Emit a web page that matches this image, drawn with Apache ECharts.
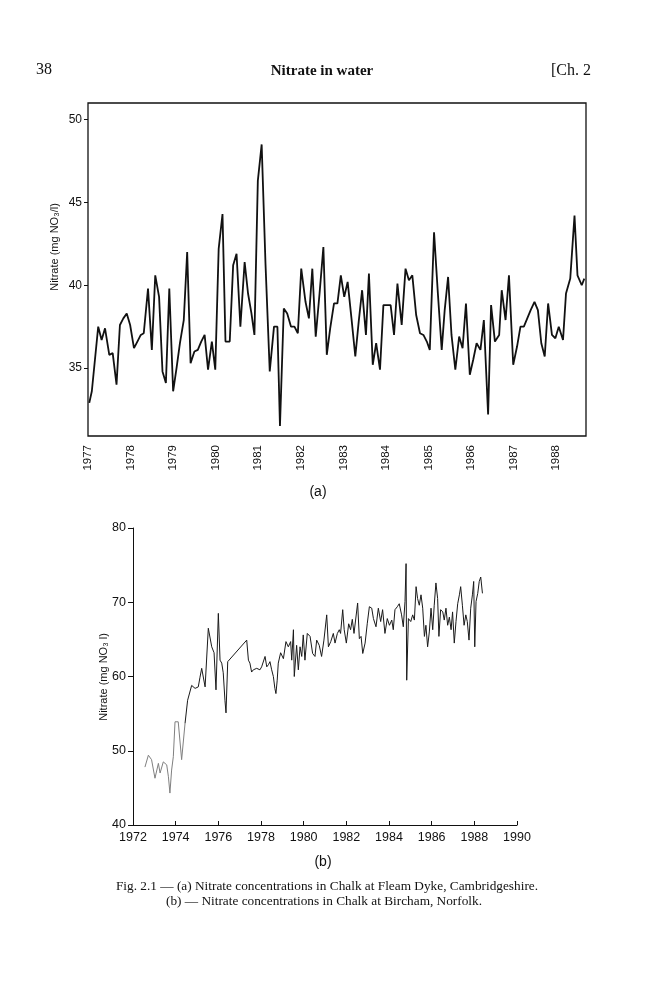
<!DOCTYPE html>
<html>
<head>
<meta charset="utf-8">
<script src="https://cdn.jsdelivr.net/npm/echarts/dist/echarts.min.js"></script>
<style>
  html, body { margin: 0; padding: 0; background: #fff; }
  #chart { width: 657px; height: 1000px; }
</style>
</head>
<body>
<div id="chart"></div>
<script>
// (a) Fleam Dyke, monthly-ish readings
const aYears = [1977.03,1977.09,1977.24,1977.32,1977.40,1977.50,1977.58,1977.67,1977.75,1977.83,1977.91,1977.99,
  1978.08,1978.16,1978.24,1978.31,1978.41,1978.50,1978.58,1978.67,1978.75,1978.83,1978.91,1979.00,
  1979.08,1979.16,1979.25,1979.33,1979.41,1979.50,1979.58,1979.66,1979.74,1979.82,1979.91,1979.99,
  1980.07,1980.16,1980.23,1980.33,1980.41,1980.49,1980.58,1980.68,1980.76,1980.84,1980.91,1980.99,
  1981.08,1981.17,1981.27,1981.37,1981.45,1981.51,1981.60,1981.68,1981.77,1981.85,1981.93,1982.01,
  1982.11,1982.19,1982.27,1982.35,1982.44,1982.53,1982.61,1982.69,1982.78,1982.86,1982.94,1983.02,
  1983.10,1983.19,1983.28,1983.36,1983.44,1983.53,1983.60,1983.69,1983.77,1983.86,1983.94,1984.03,
  1984.11,1984.19,1984.27,1984.37,1984.46,1984.54,1984.62,1984.71,1984.80,1984.88,1984.96,1985.03,
  1985.13,1985.22,1985.31,1985.38,1985.46,1985.54,1985.63,1985.72,1985.80,1985.88,1985.97,1986.05,
  1986.13,1986.22,1986.30,1986.40,1986.47,1986.56,1986.66,1986.72,1986.81,1986.89,1986.99,1987.08,
  1987.16,1987.24,1987.32,1987.40,1987.49,1987.57,1987.65,1987.73,1987.81,1987.90,1987.98,1988.06,
  1988.16,1988.23,1988.33,1988.43,1988.50,1988.60,1988.66];
const aNitrate = [32.9,33.6,37.5,36.7,37.4,35.8,35.9,34.0,37.6,38.0,38.3,37.6,
  36.2,36.6,37.0,37.1,39.8,36.1,40.6,39.3,34.8,34.1,39.8,33.6,
  35.0,36.5,37.9,42.0,35.3,36.0,36.1,36.6,37.0,34.9,36.6,34.9,
  42.2,44.3,36.6,36.6,41.2,41.9,37.5,41.4,39.5,38.3,37.0,46.3,
  48.5,41.3,34.8,37.5,37.5,31.5,38.6,38.3,37.5,37.5,37.1,41.0,
  39.0,38.0,41.0,36.9,39.5,42.3,35.8,37.4,38.9,38.9,40.6,39.3,
  40.2,38.0,35.7,37.8,39.7,37.0,40.7,35.2,36.5,34.9,38.8,38.8,
  38.8,37.0,40.1,37.6,41.0,40.3,40.6,38.2,37.1,37.0,36.6,36.1,
  43.2,39.5,36.1,38.5,40.5,37.0,34.9,36.9,36.2,38.9,34.6,35.5,
  36.5,36.1,37.9,32.2,38.8,36.6,37.0,39.7,37.9,40.6,35.2,36.3,
  37.5,37.5,38.0,38.5,39.0,38.5,36.5,35.7,38.9,37.0,36.8,37.5,
  36.7,39.5,40.4,44.2,40.6,40.0,40.4];
const aYearTicks = [1977,1978,1979,1980,1981,1982,1983,1984,1985,1986,1987,1988];
const aValueTicks = [35, 40, 45, 50];

// (b) Bircham: early faint record, then the main record
const bEarlyYears = [1972.56,1972.72,1972.87,1973.03,1973.19,1973.27,1973.42,1973.58,1973.66,1973.73,
  1973.81,1973.89,1973.97,1974.12,1974.28,1974.44];
const bEarlyNitrate = [47.8,49.4,48.8,46.3,48.3,47.0,48.5,48.1,46.5,44.3,47.4,49.2,53.9,53.9,48.8,53.7];
const bYears = [1974.56,1974.75,1974.91,1975.06,1975.14,1975.22,1975.38,1975.53,1975.69,1975.80,
  1975.89,1976.00,1976.08,1976.16,1976.23,1976.31,1976.36,1976.44,1977.33,1977.41,
  1977.48,1977.56,1977.64,1977.72,1977.80,1977.87,1977.95,1978.03,1978.10,1978.19,
  1978.27,1978.35,1978.42,1978.50,1978.58,1978.65,1978.70,1978.76,1978.81,1978.92,
  1979.05,1979.17,1979.28,1979.39,1979.44,1979.52,1979.56,1979.67,1979.75,1979.83,
  1979.91,1979.98,1980.06,1980.17,1980.30,1980.42,1980.53,1980.61,1980.73,1980.84,
  1980.95,1981.08,1981.16,1981.27,1981.39,1981.47,1981.58,1981.67,1981.73,1981.83,
  1981.90,1982.00,1982.11,1982.20,1982.28,1982.36,1982.45,1982.53,1982.61,1982.69,
  1982.77,1982.88,1982.98,1983.08,1983.19,1983.27,1983.39,1983.50,1983.61,1983.70,
  1983.81,1983.92,1984.02,1984.13,1984.20,1984.28,1984.39,1984.48,1984.59,1984.67,
  1984.75,1984.80,1984.83,1984.91,1985.02,1985.11,1985.19,1985.27,1985.34,1985.42,
  1985.50,1985.58,1985.66,1985.73,1985.81,1985.89,1985.97,1986.05,1986.12,1986.20,
  1986.28,1986.34,1986.42,1986.52,1986.59,1986.67,1986.75,1986.83,1986.91,1986.98,
  1987.06,1987.14,1987.22,1987.30,1987.36,1987.44,1987.52,1987.60,1987.67,1987.75,
  1987.83,1987.91,1987.97,1988.02,1988.08,1988.16,1988.23,1988.30,1988.38];
const bNitrate = [56.8,58.8,58.4,58.6,59.9,61.1,58.6,66.5,64.0,63.2,
  58.2,68.5,62.2,61.8,60.5,56.8,55.1,62.0,64.9,62.2,
  61.8,60.6,60.9,61.1,61.1,61.0,60.9,61.3,61.1,62.7,
  61.3,61.6,62.0,60.9,60.0,58.4,57.7,59.5,61.8,63.2,
  62.4,64.7,64.0,64.7,62.2,66.3,60.0,64.2,60.9,64.0,
  62.7,65.6,62.2,65.8,65.4,63.1,62.7,64.9,64.2,62.7,
  64.9,68.3,64.0,64.7,65.8,64.5,65.8,66.3,65.8,69.0,
  66.3,64.5,67.1,66.3,67.7,65.8,65.6,69.9,65.1,65.4,
  63.1,64.5,67.1,69.4,69.2,67.8,66.7,69.2,67.4,69.0,
  65.8,67.8,66.9,67.6,66.3,69.0,69.4,69.8,68.3,66.7,
  70.1,75.2,59.5,67.8,67.4,68.3,67.6,72.1,70.5,69.6,
  71.0,69.2,65.4,66.9,64.0,66.0,69.2,66.3,69.6,72.6,
  70.5,65.4,69.0,68.7,67.6,69.2,66.9,68.0,66.3,68.7,
  64.5,67.4,69.8,71.0,72.1,69.6,66.9,68.3,67.4,64.9,
  69.2,71.0,72.8,64.0,70.1,71.2,72.8,73.4,71.2];

const pair = (xs, ys) => xs.map((x, i) => [x, ys[i]]);
const earlyData = pair(bEarlyYears, bEarlyNitrate);
const mainData = [earlyData[earlyData.length - 1]].concat(pair(bYears, bNitrate));

const sans = 'Liberation Sans, Arial, sans-serif';
const serif = 'Liberation Serif, Times New Roman, serif';
const ink = '#111';

const chart = echarts.init(document.getElementById('chart'), null, { renderer: 'canvas' });

const option = {
  backgroundColor: '#fff',
  animation: false,
  grid: [
    { left: 88, right: 71, top: 103, bottom: 564, show: true, borderColor: ink, borderWidth: 1.3 },
    { left: 133, right: 140, top: 528, bottom: 175 }
  ],
  xAxis: [
    {
      gridIndex: 0, type: 'value', min: 1977, max: 1988.7, interval: 1,
      axisLine: { show: false }, axisTick: { show: false }, splitLine: { show: false },
      axisLabel: {
        rotate: 90, margin: 9, color: ink, fontFamily: sans, fontSize: 11.5,
        customValues: aYearTicks, formatter: v => String(v)
      }
    },
    {
      gridIndex: 1, type: 'value', min: 1972, max: 1990, interval: 2,
      axisLine: { show: true, lineStyle: { color: ink, width: 1 } },
      axisTick: { show: true, inside: true, length: 4, lineStyle: { color: ink } },
      splitLine: { show: false },
      axisLabel: { margin: 6, color: ink, fontFamily: sans, fontSize: 12.5, formatter: v => String(v) }
    }
  ],
  yAxis: [
    {
      gridIndex: 0, type: 'value', min: 30.9, max: 51,
      axisLine: { show: false },
      axisTick: { show: true, length: 4, customValues: aValueTicks, lineStyle: { color: ink } },
      splitLine: { show: false },
      axisLabel: { margin: 6, color: ink, fontFamily: sans, fontSize: 12, customValues: aValueTicks }
    },
    {
      gridIndex: 1, type: 'value', min: 40, max: 80, interval: 10,
      axisLine: { show: true, lineStyle: { color: ink, width: 1 } },
      axisTick: { show: true, length: 5, lineStyle: { color: ink } },
      splitLine: { show: false },
      axisLabel: { margin: 7, color: ink, fontFamily: sans, fontSize: 12.5 }
    }
  ],
  series: [
    {
      type: 'line', xAxisIndex: 0, yAxisIndex: 0, data: pair(aYears, aNitrate),
      showSymbol: false, lineStyle: { color: ink, width: 1.8 }
    },
    {
      type: 'line', xAxisIndex: 1, yAxisIndex: 1, data: earlyData,
      showSymbol: false, lineStyle: { color: '#808080', width: 1 }
    },
    {
      type: 'line', xAxisIndex: 1, yAxisIndex: 1, data: mainData,
      showSymbol: false, lineStyle: { color: '#1a1a1a', width: 1 }
    }
  ],
  graphic: [
    { type: 'text', left: 36, top: 62, style: { text: '38', font: '16px ' + serif, fill: ink } },
    { type: 'text', x: 322, y: 71, style: { text: 'Nitrate in water', font: 'bold 15px ' + serif, fill: ink, textAlign: 'center', textVerticalAlign: 'middle' } },
    { type: 'text', x: 591, y: 71, style: { text: '[Ch. 2', font: '16px ' + serif, fill: ink, textAlign: 'right', textVerticalAlign: 'middle' } },
    { type: 'text', x: 55, y: 247, rotation: Math.PI / 2, style: { text: 'Nitrate (mg NO\u2083/l)', font: '11px ' + sans, fill: ink, textAlign: 'center', textVerticalAlign: 'middle' } },
    { type: 'text', x: 104, y: 677, rotation: Math.PI / 2, style: { text: 'Nitrate (mg NO\u2083 l)', font: '11px ' + sans, fill: ink, textAlign: 'center', textVerticalAlign: 'middle' } },
    { type: 'text', x: 318, y: 492, style: { text: '(a)', font: '14px ' + sans, fill: ink, textAlign: 'center', textVerticalAlign: 'middle' } },
    { type: 'text', x: 323, y: 862, style: { text: '(b)', font: '14px ' + sans, fill: ink, textAlign: 'center', textVerticalAlign: 'middle' } },
    { type: 'text', x: 327, y: 887, style: { text: 'Fig. 2.1 \u2014 (a) Nitrate concentrations in Chalk at Fleam Dyke, Cambridgeshire.', font: '13.3px ' + serif, fill: ink, textAlign: 'center', textVerticalAlign: 'middle' } },
    { type: 'text', x: 324, y: 902, style: { text: '(b) \u2014 Nitrate concentrations in Chalk at Bircham, Norfolk.', font: '13.3px ' + serif, fill: ink, textAlign: 'center', textVerticalAlign: 'middle' } }
  ]
};

chart.setOption(option);
</script>
</body>
</html>
